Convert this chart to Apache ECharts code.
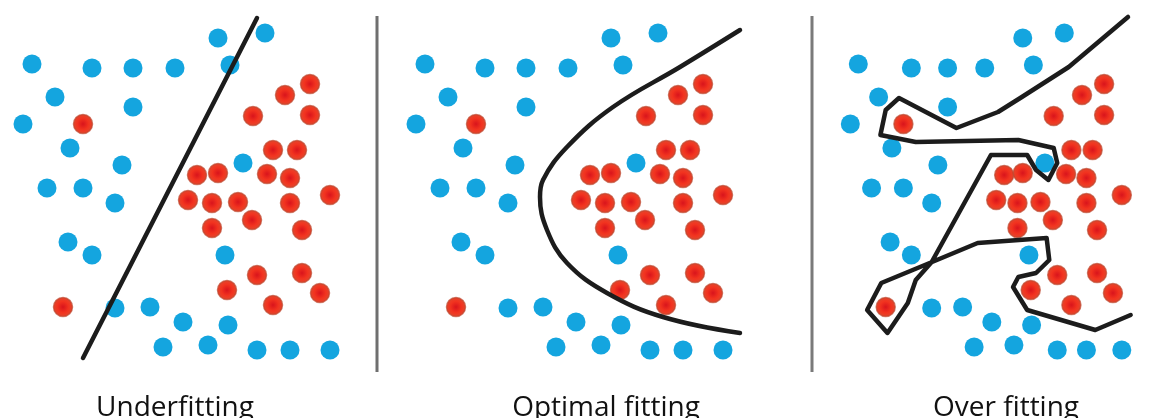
<!DOCTYPE html>
<html>
<head>
<meta charset="utf-8">
<script src="https://cdn.jsdelivr.net/npm/echarts@6/dist/echarts.min.js"></script>
<style>
  html, body { margin: 0; padding: 0; background: #fff; }
  #chart { width: 1166px; height: 418px; }
</style>
</head>
<body>
<div id="chart"></div>
<script>
// same point cloud in all three panels (panel-local units, y grows downward)
var bluePoints = [
  [218, 38], [265, 33], [32, 64], [92, 68], [133, 68], [175, 68], [230, 65],
  [55, 97], [133, 107], [23, 124], [70, 148], [122, 165], [243, 163],
  [47, 188], [83, 188], [115, 203], [68, 242], [92, 255], [225, 255],
  [115, 308], [150, 307], [183, 322], [228, 325], [163, 347], [208, 345],
  [257, 350], [290, 350], [330, 350]
];
var redPoints = [
  [83, 124], [285, 95], [310, 84], [253, 116], [310, 115], [273, 150], [297, 150],
  [197, 175], [218, 173], [267, 174], [290, 178], [330, 195], [188, 200],
  [212, 203], [238, 202], [290, 203], [252, 220], [212, 228], [302, 230],
  [257, 275], [302, 273], [227, 290], [320, 293], [63, 307], [273, 305]
];

// decision boundaries
var underLine = [[83, 358], [257, 18]];
var optimalCurve = [
  [347, 30], [287, 67], [220, 107], [174, 147], [150, 180], [147, 197],
  [154, 230], [174, 263], [214, 293], [270, 317], [347, 333]
];
var overLine = [
  [337, 17], [270, 67], [217, 97], [190, 112], [143, 128], [78, 98], [63, 110],
  [57, 135], [97, 142], [213, 140], [253, 148], [257, 163], [247, 180],
  [233, 170], [223, 155], [182, 155], [115, 262], [97, 280], [88, 303],
  [65, 333], [42, 310], [58, 283], [110, 264], [167, 243], [245, 238],
  [248, 260], [233, 273], [213, 277], [207, 287], [223, 310], [300, 330],
  [340, 315]
];

var panelTitles = ['Underfitting', 'Optimal fitting', 'Over fitting'];
var panelOffsets = [0, 393, 830];
var boundaries = [underLine, optimalCurve, overLine];

var chart = echarts.init(document.getElementById('chart'));

var grids = [], xAxes = [], yAxes = [], series = [];
var blueColor = '#14a5df';
var redColor = new echarts.graphic.RadialGradient(0.5, 0.5, 0.5, [
  { offset: 0, color: '#d9141c' },
  { offset: 0.55, color: '#f2331f' },
  { offset: 1, color: '#e2492f' }
]);

panelOffsets.forEach(function (off, i) {
  grids.push({ left: off, top: 0, width: 380, height: 418 });
  xAxes.push({ type: 'value', gridIndex: i, min: 0, max: 380, show: false });
  yAxes.push({ type: 'value', gridIndex: i, min: 0, max: 418, inverse: true, show: false });
  series.push({
    type: 'scatter', xAxisIndex: i, yAxisIndex: i, symbolSize: 19, silent: true,
    itemStyle: { color: blueColor, opacity: 1 },
    data: bluePoints
  });
  series.push({
    type: 'scatter', xAxisIndex: i, yAxisIndex: i, symbolSize: 19, silent: true,
    itemStyle: { color: redColor, borderColor: 'rgba(190,70,45,0.7)', borderWidth: 1.5, opacity: 1 },
    data: redPoints
  });
  series.push({
    type: 'line', xAxisIndex: i, yAxisIndex: i, silent: true, clip: false,
    symbol: 'none', smooth: i === 1 ? 0.4 : false,
    lineStyle: { color: '#1c1c1c', width: 4.5, join: 'round', cap: 'round' },
    data: boundaries[i],
    z: 5
  });
});

var graphics = [
  { type: 'line', shape: { x1: 377, y1: 16, x2: 377, y2: 372 }, style: { stroke: '#6f6f6f', lineWidth: 3 } },
  { type: 'line', shape: { x1: 812, y1: 16, x2: 812, y2: 372 }, style: { stroke: '#7a7a7a', lineWidth: 3 } }
];
var labelCenters = [175, 606, 1006];
panelTitles.forEach(function (t, i) {
  graphics.push({
    type: 'text',
    style: {
      x: labelCenters[i], y: 394, text: t, textAlign: 'center', textVerticalAlign: 'top',
      font: '28px "Open Sans", sans-serif', fill: '#111'
    }
  });
});

chart.setOption({
  backgroundColor: '#fff',
  animation: false,
  grid: grids,
  xAxis: xAxes,
  yAxis: yAxes,
  series: series,
  graphic: graphics
});
</script>
</body>
</html>
